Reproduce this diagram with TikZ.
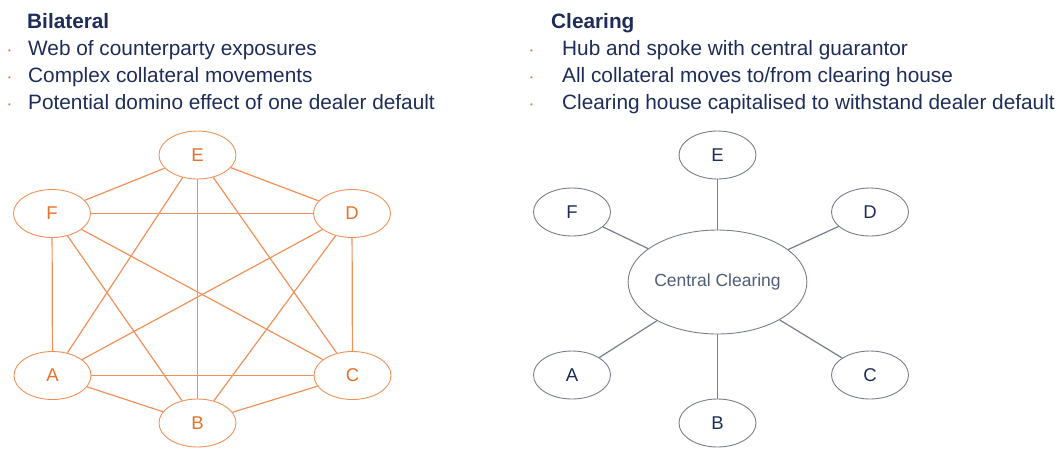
\documentclass[tikz,border=0pt]{standalone}
\usepackage{fontspec}
\setmainfont{Liberation Sans}
\usetikzlibrary{shapes.geometric}
\definecolor{navy}{RGB}{30,45,88}
\definecolor{dotorange}{RGB}{236,120,50}
\definecolor{weborange}{RGB}{240,145,90}
\definecolor{letterorange}{RGB}{232,112,40}
\definecolor{spokegray}{RGB}{120,126,140}
\definecolor{hubtext}{RGB}{80,92,120}
\newcommand{\bul}[1]{\makebox[#1][l]{\raisebox{1.5pt}{\textcolor{dotorange}{\fontsize{8}{8}\selectfont\textbullet}}}}
\tikzset{
	txt/.style={inner sep=0pt, anchor=base west, text=navy, font=\fontsize{20.8}{22}\selectfont},
	headtxt/.style={txt, font=\fontsize{20.8}{22}\selectfont\bfseries},
	dealer/.style={ellipse, fill=white, line width=0.9pt, minimum width=77pt, minimum height=48pt, inner sep=0pt, font=\fontsize{18.5}{18}\selectfont},
	bilat/.style={dealer, draw=weborange, text=letterorange},
	spokenode/.style={dealer, draw=spokegray, text=navy},
	web/.style={draw=weborange, line width=1.2pt},
	spoke/.style={draw=spokegray, line width=1.2pt}
}
\begin{document}
\begin{tikzpicture}[x=1pt, y=-1pt]
		\useasboundingbox (0,0) rectangle (1063,448);
		% text, left
		\node[headtxt] (bilhead) at (27,28) {Bilateral};
		\node[txt] (bilone) at (8,55) {\bul{20pt}Web of counterparty exposures};
		\node[txt] (biltwo) at (8,82) {\bul{20pt}Complex collateral movements};
		\node[txt] (bilthree) at (8,109) {\bul{20pt}Potential domino effect of one dealer default};
		% text, right
		\node[headtxt] (clrhead) at (551,28) {Clearing};
		\node[txt] (clrone) at (530,55) {\bul{32pt}Hub and spoke with central guarantor};
		\node[txt] (clrtwo) at (530,82) {\bul{32pt}All collateral moves to/from clearing house};
		\node[txt] (clrthree) at (530,109) {\bul{32pt}Clearing house capitalised to withstand dealer default};
		% bilateral web
		\node[bilat] (lE) at (197.5,155) {E};
		\node[bilat] (lF) at (52,213.5) {F};
		\node[bilat] (lD) at (352,213.5) {D};
		\node[bilat] (lA) at (52.5,375.5) {A};
		\node[bilat] (lC) at (352.5,375.5) {C};
		\node[bilat] (lB) at (197.5,423) {B};
		\foreach \a/\b in {A/B,A/C,A/D,A/E,A/F,B/C,B/D,B/E,B/F,C/D,C/E,C/F,D/E,D/F,E/F}
			\draw[web] (l\a) -- (l\b);
		% hub and spoke
		\node[spokenode, minimum width=164pt, minimum height=104pt, text=hubtext, font=\fontsize{17.5}{18}\selectfont] (cc) at (717.5,282) {Central Clearing};
		\node[spokenode] (rE) at (717.5,155) {E};
		\node[spokenode] (rF) at (572,212) {F};
		\node[spokenode] (rD) at (870,212) {D};
		\node[spokenode] (rA) at (572,375) {A};
		\node[spokenode] (rC) at (870,375) {C};
		\node[spokenode] (rB) at (717.5,423) {B};
		\foreach \n in {A,B,C,D,E,F}
			\draw[spoke] (cc) -- (r\n);
		\end{tikzpicture}
\end{document}
